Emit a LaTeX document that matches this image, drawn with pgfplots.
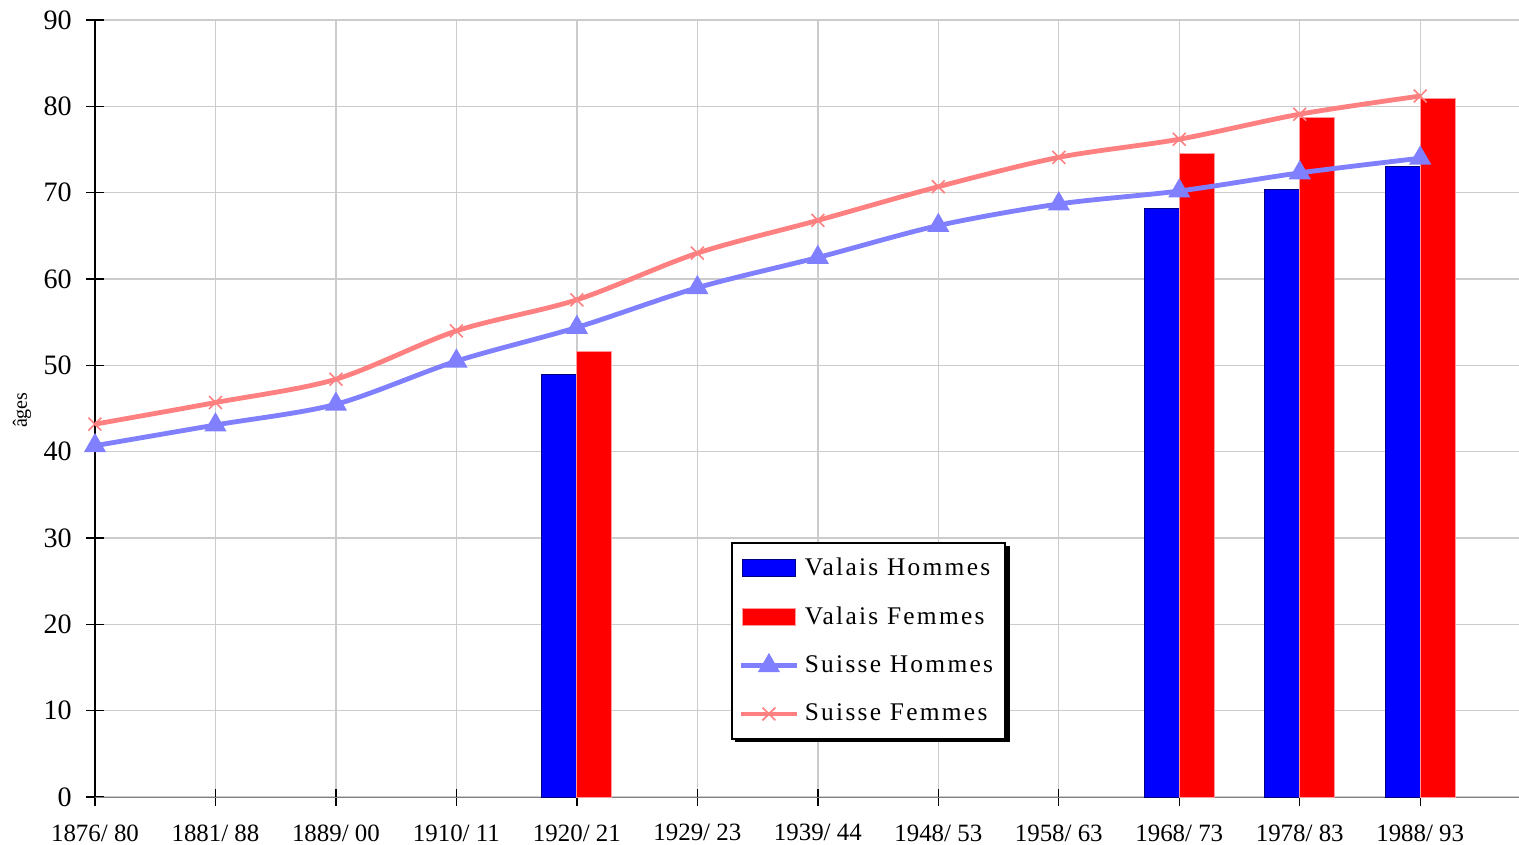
\documentclass[border=0pt]{standalone}
\usepackage{fontspec}
\setmainfont{Liberation Serif}
\usepackage{pgfplots}
\pgfplotsset{compat=1.18}

\definecolor{vblue}{HTML}{0000FF}
\definecolor{vred}{HTML}{FF0000}
\definecolor{sblue}{HTML}{8080FF}
\definecolor{sred}{HTML}{FF8080}

\pgfplotsset{
    barleg/.style={legend image code/.code={\draw[##1] (1.5pt,-3.2pt) rectangle (21.5pt,3.2pt);}},
    lineleg/.style={legend image code/.code={\draw[mark repeat=2,mark phase=2,##1] plot coordinates {(1pt,0pt)(11.5pt,0pt)(22pt,0pt)};}},
}

\begin{document}
\begin{tikzpicture}
\begin{axis}[
    name=ax,
    scale only axis,
    width=532.2pt, height=290.4pt,
    xmin=0, xmax=11.82,
    ymin=0, ymax=90,
    xtick={0,...,11},
    xticklabels={1876/ 80,1881/ 88,1889/ 00,1910/ 11,1920/ 21,1929/ 23,1939/ 44,1948/ 53,1958/ 63,1968/ 73,1978/ 83,1988/ 93},
    ytick={0,10,...,90},
    axis x line*=bottom,
    axis y line*=left,
    x axis line style={draw=black!50},
    tick align=center,
    major tick length=6.4pt,
    tick style={black, line width=0.5pt},
    grid=major,
    grid style={black!20, line width=0.5pt},
    /pgf/number format/assume math mode=true,
    xticklabel style={font=\fontsize{9.3}{11}\selectfont, yshift=-3.5pt},
    yticklabel style={font=\fontsize{10.5}{12}\selectfont, xshift=-2pt},
    ylabel={âges},
    ylabel style={font=\fontsize{7.5}{9}\selectfont, at={(axis description cs:-0.0513,0.498)}, anchor=center},
    legend style={
        at={(0.4466,0.328)}, anchor=north west,
        draw=black, line width=0.6pt, fill=white,
        font=\fontsize{9.5}{11}\selectfont\addfontfeature{LetterSpace=9},
        row sep=6.2pt, inner xsep=2.5pt, inner ysep=3.4pt,
        cells={anchor=west},
    },
]
% legend shadow
\fill[black] (axis description cs:0.4494,0.0708) rectangle (axis description cs:0.6426,0.3230);
\addplot[ybar, bar width=13.1pt, bar shift=-6.55pt, fill=vblue, draw=blue!50!black, line width=0.4pt, barleg]
    coordinates {(4,49.0) (9,68.2) (10,70.4) (11,73.0)};
\addlegendentry{Valais Hommes}
\addplot[ybar, bar width=13.1pt, bar shift=6.55pt, fill=vred, draw=red!40!white, line width=0.4pt, barleg]
    coordinates {(4,51.6) (9,74.5) (10,78.7) (11,80.9)};
\addlegendentry{Valais Femmes}
\addplot[color=sblue, line width=1.8pt, smooth, mark=triangle*, mark size=3pt, mark options={solid}, lineleg]
    coordinates {(0,40.7) (1,43.1) (2,45.5) (3,50.5) (4,54.4) (5,59.0) (6,62.5) (7,66.2) (8,68.7) (9,70.2) (10,72.3) (11,74.0)};
\addlegendentry{Suisse Hommes}
\addplot[color=sred, line width=1.8pt, smooth, mark=x, mark size=3.4pt, mark options={solid, line width=0.6pt}, lineleg]
    coordinates {(0,43.2) (1,45.7) (2,48.4) (3,54.0) (4,57.6) (5,63.0) (6,66.8) (7,70.7) (8,74.1) (9,76.2) (10,79.1) (11,81.2)};
\addlegendentry{Suisse Femmes}
\end{axis}
\pgfresetboundingbox
\path[use as bounding box] ([xshift=-35.5pt,yshift=-17.9pt]ax.south west) rectangle ([yshift=7.5pt]ax.north east);
\end{tikzpicture}
\end{document}
